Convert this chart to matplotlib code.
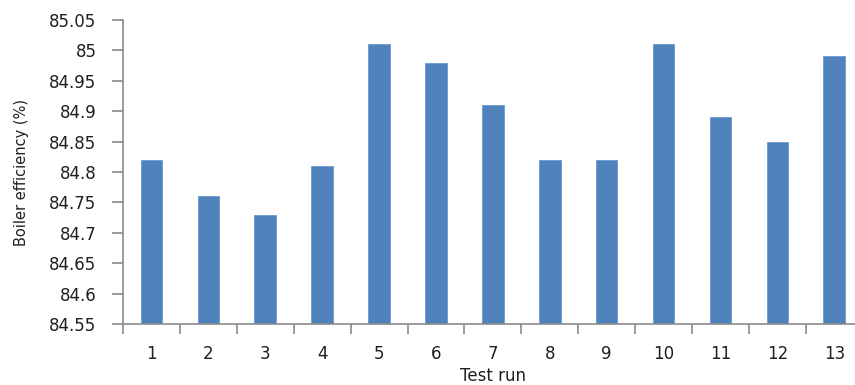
import matplotlib
matplotlib.use("Agg")
import matplotlib.pyplot as plt
import numpy as np

categories = ["1", "2", "3", "4", "5", "6", "7", "8", "9", "10", "11", "12", "13"]
efficiency = [84.82, 84.76, 84.73, 84.81, 85.01, 84.98, 84.91, 84.82, 84.82, 85.01, 84.89, 84.85, 84.99]
y_ticks = [84.55, 84.6, 84.65, 84.7, 84.75, 84.8, 84.85, 84.9, 84.95, 85.0, 85.05]
y_tick_labels = ["84.55", "84.6", "84.65", "84.7", "84.75", "84.8", "84.85", "84.9", "84.95", "85", "85.05"]

plt.rcParams['font.family'] = ['DejaVu Sans']
text_color = '#1f1f1f'
spine_color = '#8a8a8a'

fig = plt.figure(figsize=(8.55, 3.85), dpi=100)
ax = fig.add_axes([123/855, 61/385, 739.7/855, 304/385])

x = np.arange(len(categories))
ax.bar(x, efficiency, width=0.38, color='#4F81BD', edgecolor='#6f9bd0', linewidth=0.6,
       bottom=0, zorder=2)

ax.set_ylim(84.55, 85.05)
ax.set_xlim(-0.5, len(categories) - 0.5)

ax.set_yticks(y_ticks)
ax.set_yticklabels(y_tick_labels)
ax.set_xticks(x)
ax.set_xticklabels(categories)
ax.set_xticks(np.arange(len(categories) + 1) - 0.5, minor=True)

ax.tick_params(axis='y', which='major', direction='out', length=8, width=1.2,
               color=spine_color, pad=11, labelsize=12, labelcolor=text_color)
ax.tick_params(axis='x', which='major', length=0, pad=15, labelsize=12, labelcolor=text_color)
ax.tick_params(axis='x', which='minor', direction='out', length=7, width=1.2, color=spine_color)

for s in ['top', 'right']:
    ax.spines[s].set_visible(False)
for s in ['left', 'bottom']:
    ax.spines[s].set_color(spine_color)
    ax.spines[s].set_linewidth(1.2)

ax.set_ylabel("Boiler efficiency (%)", fontsize=10.5, color=text_color)
ax.yaxis.set_label_coords(-0.127, 0.5)
ax.set_xlabel("Test run", fontsize=12, color=text_color)
ax.xaxis.set_label_coords(0.5, -0.143)

fig.savefig("out.png", dpi=100)
